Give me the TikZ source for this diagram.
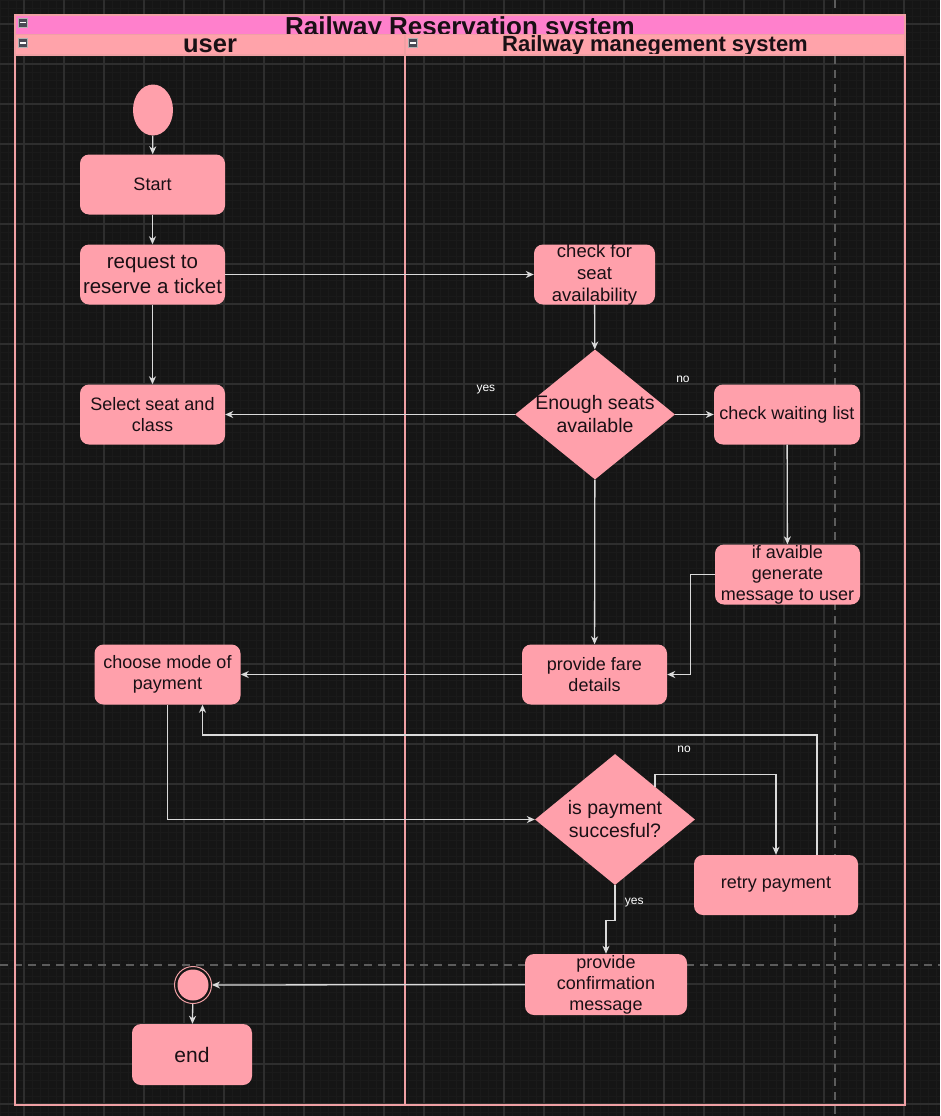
\documentclass[tikz,border=0pt]{standalone}
\usepackage{fontspec}
\setmainfont{Liberation Sans}
\usepackage{xcolor}
\usetikzlibrary{arrows.meta,shapes.geometric}

\definecolor{canvas}{HTML}{151515}
\definecolor{gridminor}{HTML}{1A1A1A}
\definecolor{gridmajor}{HTML}{2E2E2E}
\definecolor{dashgray}{HTML}{5C5C5C}
\definecolor{titlepink}{HTML}{FF80CC}
\definecolor{lanepink}{HTML}{FFA3AA}
\definecolor{boxpink}{HTML}{FFA0AB}
\definecolor{lineborder}{HTML}{F0A0A4}
\definecolor{flowgray}{HTML}{DADADA}
\definecolor{inkdark}{HTML}{1A1015}
\definecolor{icongray}{HTML}{4A4A56}

\begin{document}
\begin{tikzpicture}[x=1pt, y=-1pt, every node/.style={text=inkdark, align=center, font=\fontsize{18}{21}\selectfont},%
        actbox/.style={rectangle, rounded corners=9pt, fill=boxpink, minimum width=145pt, minimum height=60pt, inner sep=0pt},%
        decide/.style={diamond, fill=boxpink, minimum width=160pt, minimum height=130pt, inner sep=0pt},%
        flow/.style={draw=flowgray, line width=1.3pt, -{Stealth[length=8pt,width=7pt,inset=2.5pt]}},%
        edgelabel/.style={text=white, font=\fontsize{12}{14}\selectfont},%
        foldicon/.style={draw=white!70!black, fill=icongray, minimum size=9pt, inner sep=0pt,
            path picture={\draw[white, line width=1.4pt] ([xshift=-3pt]path picture bounding box.center) -- ([xshift=3pt]path picture bounding box.center);}}]
    % canvas and grid
    \useasboundingbox (0,0) rectangle (940,1116);
    \fill[canvas] (0,0) rectangle (940,1116);
    \foreach \gx in {0,8,...,936} \draw[gridminor, line width=.8pt] (\gx,0) -- (\gx,1116);
    \foreach \gy in {0,8,...,1112} \draw[gridminor, line width=.8pt] (0,\gy) -- (940,\gy);
    \foreach \gx in {24,64,...,904} \draw[gridmajor, line width=1.6pt] (\gx,0) -- (\gx,1116);
    \foreach \gy in {24,64,...,1104} \draw[gridmajor, line width=1.6pt] (0,\gy) -- (940,\gy);
    \draw[dashgray, line width=1.3pt, dash pattern=on 8pt off 6pt] (835,0) -- (835,1116);
    \draw[dashgray, line width=1.3pt, dash pattern=on 8pt off 6pt] (0,965) -- (940,965);

    % pool and lanes
    \fill[titlepink] (15,15) rectangle (905,35);
    \node[anchor=base, font=\bfseries\fontsize{26}{26}\selectfont] (pooltitle) at (460,35.5) {Railway Reservation system};
    \fill[lanepink] (15,35) rectangle (905,55);
    \node[anchor=base, font=\bfseries\fontsize{25.5}{25.5}\selectfont] (userlane) at (210,52.5) {user};
    \node[anchor=base, font=\bfseries\fontsize{22}{22}\selectfont] (systemlane) at (655,52) {Railway manegement system};
    \draw[lineborder, line width=1.5pt] (15,15) rectangle (905,1105);
    \draw[lineborder, line width=1pt] (15,35) -- (905,35);
    \draw[lineborder, line width=1.5pt] (15,55) -- (905,55);
    \draw[lineborder, line width=1.5pt] (405,35) -- (405,1105);
    \node[foldicon] (foldpool) at (22.5,22.5) {};
    \node[foldicon] (folduser) at (22.5,43) {};
    \node[foldicon] (foldsystem) at (413,43) {};

    % user lane
    \node[ellipse, fill=boxpink, minimum width=40pt, minimum height=51pt, inner sep=0pt] (init) at (153,110) {};
    \node[actbox] (start) at (152.5,184.5) {Start};
    \node[actbox, font=\fontsize{20.5}{25}\selectfont] (request) at (152.5,274.5) {request to\\reserve a ticket};
    \node[actbox] (select) at (152.5,414.5) {Select seat and\\class};
    \node[actbox, minimum width=146pt] (choose) at (167.5,674.5) {choose mode of\\payment};
    \node[circle, draw=lineborder, line width=1pt, fill=canvas, minimum size=37pt, inner sep=0pt] (stop) at (193,985) {};
    \node[circle, fill=boxpink, minimum size=31pt, inner sep=0pt] (stopdot) at (stop) {};
    \node[actbox, minimum width=120pt, minimum height=61pt, font=\fontsize{21}{25}\selectfont] (finish) at (192,1054.5) {end};

    % system lane
    \node[actbox, minimum width=121pt, inner ysep=-2pt, font=\fontsize{18.5}{22}\selectfont] (check) at (594.5,274.5) {check for\\seat\\availability};
    \node[decide, label={[font=\fontsize{19.5}{23}\selectfont, text=inkdark, align=center]center:Enough seats\\available}] (seats) at (595,414.5) {};
    \node[actbox, minimum width=146pt] (waiting) at (787,414.5) {check waiting list};
    \node[actbox, inner ysep=-2pt] (ifavail) at (787.5,574.5) {if avaible\\generate\\message to user};
    \node[actbox] (fare) at (594.5,674.5) {provide fare\\details};
    \node[decide, minimum height=131pt, label={[font=\fontsize{19.5}{23}\selectfont, text=inkdark, align=center]center:is payment\\succesful?}] (pay) at (615,819.5) {};
    \node[actbox, minimum width=164pt] (retry) at (776,885) {retry payment};
    \node[actbox, minimum width=162pt, minimum height=61pt, inner ysep=-2pt] (confirm) at (606,984.5) {provide\\confirmation\\message};
    \coordinate (loopback) at (817,735);

    % connectors
    \draw[flow] (init) -- (start);
    \draw[flow] (start) -- (request);
    \draw[flow] (request) -- (select);
    \draw[flow] (request) -- (check);
    \draw[flow] (check) -- (seats);
    \draw[flow] (seats) -- node[edgelabel, pos=0.1, yshift=25pt] {yes} (select);
    \draw[flow] (seats) -- node[edgelabel, pos=0.2, yshift=35pt] {no} (waiting);
    \draw[flow] (waiting) -- (ifavail);
    \draw[flow] (ifavail.west) -- ++(-24,0) |- (fare.east);
    \draw[flow] (seats) -- (fare);
    \draw[flow] (fare) -- (choose);
    \draw[flow] (choose.south) |- (pay.west);
    \draw[flow] (pay.north east) -- ++(0,-12) -| node[edgelabel, pos=0.12, yshift=25pt] {no} (retry.north);
    \draw[flow] ([xshift=41pt]retry.north) -- (loopback) -| ([xshift=35pt]choose.south);
    \draw[flow] (pay.south) -- node[edgelabel, right=6pt] {yes} ++(0,35) -| (confirm.north);
    \draw[flow] (confirm) -- (stop);
    \draw[flow] (stop) -- (finish);
\end{tikzpicture}
\end{document}
